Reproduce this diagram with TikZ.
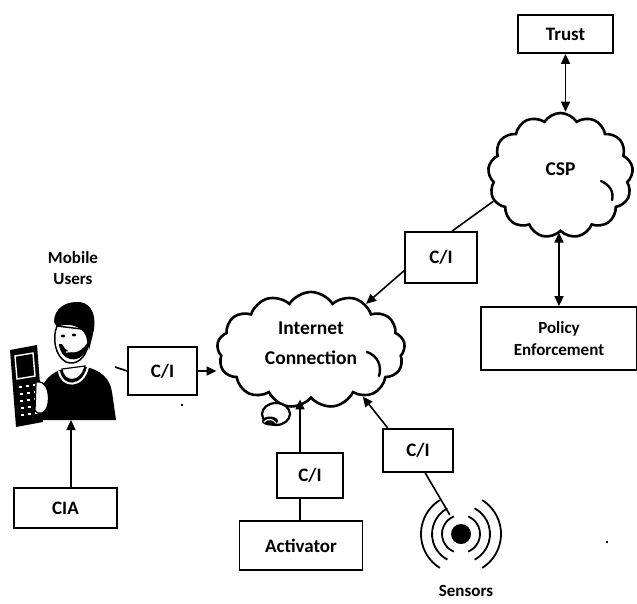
\documentclass[tikz,border=0pt]{standalone}
\usepackage{fontspec}
\setmainfont{Carlito}
\usetikzlibrary{shapes.symbols,arrows.meta,calc}
\begin{document}
\begin{tikzpicture}[x=1pt,y=-1pt,
  box/.style={draw, line width=1.8pt, inner sep=0pt, align=center,
    font=\fontsize{19}{23}\selectfont\bfseries},
  netcloud/.style={cloud, cloud puffs=13, cloud puff arc=115,
    cloud ignores aspect, draw, line width=2.6pt, inner sep=0pt,
    align=center, font=\fontsize{19.5}{30}\selectfont\bfseries},
  conn/.style={line width=1.6pt},
  tip/.tip={Triangle[length=10pt,width=9pt]},
  arr/.style={conn, -tip},
  biarr/.style={conn, tip-tip},
  lbl/.style={align=center, font=\fontsize{17}{21}\selectfont\bfseries},
  speck/.style={fill, inner sep=0pt, minimum size=2.5pt}
]
\useasboundingbox (0,0) rectangle (637,603);

% ---- clouds ----
\node[netcloud, minimum width=188pt, minimum height=116pt, text depth=14pt] (internet) at (311,350) {Internet\\Connection};
\node[netcloud, minimum width=145pt, minimum height=125pt, text depth=12pt] (csp) at (560.5,175.5) {CSP};
% inner strokes of the clouds
\draw[line width=2.4pt, line cap=round] (367,352) .. controls (378,356) and (382,366) .. (379,376);
\draw[line width=2.4pt, line cap=round] (601,181) .. controls (610,185) and (614,192) .. (612,200);

% ---- boxes ----
\node[box, minimum width=95pt, minimum height=38pt] (trust) at (565.5,34) {Trust};
\node[box, minimum width=156pt, minimum height=63pt, font=\fontsize{17}{22}\selectfont\bfseries] (policy) at (559,338.5) {Policy\\Enforcement};
\node[box, minimum width=72pt, minimum height=51pt] (ci1) at (441,257.5) {C/I};
\node[box, minimum width=69pt, minimum height=48pt] (ci2) at (162.5,371) {C/I};
\node[box, minimum width=103pt, minimum height=40pt] (cia) at (65.5,508) {CIA};
\node[box, minimum width=66pt, minimum height=45pt] (ci3) at (310,475.5) {C/I};
\node[box, minimum width=123pt, minimum height=49pt] (activator) at (301,545.5) {Activator};
\node[box, minimum width=70pt, minimum height=43pt] (ci4) at (418,450.5) {C/I};

% ---- mobile user ----
\node[lbl] (userlbl) at (73,268.5) {Mobile\\Users};
% shirt
\fill (38,420) -- (40,393) .. controls (43,380) and (52,373) .. (60,370)
  -- (86,367) .. controls (100,370) and (110,378) .. (112,392) -- (116,420) -- cycle;
% neck and collar
\filldraw[fill=white, line width=1.2pt] (62,369) .. controls (63,383) and (81,384) .. (85,366) -- cycle;
\draw[white, line width=2pt] (59,371) .. controls (61,388) and (83,389) .. (88,367);
% face
\filldraw[fill=white, line width=1.5pt] (57,326) .. controls (52,338) and (55,356) .. (66,362)
  .. controls (76,366) and (86,358) .. (88,345) -- (90,330) -- cycle;
% hair
\fill (54,322) .. controls (54,308) and (66,301) .. (80,302)
  .. controls (93,304) and (97,318) .. (93,334) -- (89,350) -- (86,336)
  .. controls (82,326) and (68,322) .. (57,327) -- cycle;
% beard
\fill (59,344) .. controls (60,360) and (78,366) .. (87,350) -- (88,342)
  .. controls (80,355) and (68,356) .. (62,344) -- cycle;
% eyes and mouth
\fill (63,336) ellipse (2.2pt and 1.4pt);
\fill (74,335) ellipse (2.2pt and 1.4pt);
\draw[white, line width=1.2pt] (66,352) -- (73,351.5);
% phone
\fill (10,350) -- (37,345) -- (43,422) -- (16,427) -- cycle;
\draw[white, line width=1.4pt] (15,356) -- (33,353) -- (35,376) -- (17,379) -- cycle;
\foreach \r in {0,1,2,3,4} {
  \foreach \c in {0,1,2} {
    \fill[white] ({19+7*\c+0.5*\r},{386+7*\r-1.2*\c}) rectangle ++(3,2);
  }
}
% hand holding the phone
\filldraw[fill=white, line width=1.3pt] (36,382) .. controls (46,380) and (50,392) .. (48,404)
  .. controls (46,414) and (38,416) .. (35,410) -- cycle;
\coordinate (userR) at (115,367);
\coordinate (userB) at (71,420);

% ---- camera below the internet cloud ----
\filldraw[fill=white, line width=2.2pt] (276,414) ellipse (14pt and 11pt);
\fill (270,421) ellipse (8pt and 4.5pt);
\draw[white, line width=1.2pt] (264,422) .. controls (268,418) and (273,419) .. (276,423);

% ---- sensor ----
\node[circle, fill, minimum size=20pt, inner sep=0pt] (dot) at (461,534) {};
\node[circle, minimum size=44pt, inner sep=0pt] (sensor) at (461,534) {};
\foreach \rad/\ang in {19/68, 29/62, 40/58} {
  \draw[line width=1.8pt] ($(dot)+({180-\ang}:\rad pt)$) arc[start angle=180-\ang, end angle=180+\ang, radius=\rad pt];
  \draw[line width=1.8pt] ($(dot)+({-\ang}:\rad pt)$) arc[start angle=-\ang, end angle=\ang, radius=\rad pt];
}
\node[lbl] (sensorlbl) at (466,591) {Sensors};

% ---- specks ----
\node[speck] (speckA) at (182,405) {};
\node[speck] (speckB) at (607,542) {};

% ---- connectors ----
\draw[biarr] (trust.south) -- (trust.south |- csp.north);
\draw[biarr] (policy.north) -- (policy.north |- csp.south);
\draw[conn] ($(ci1.north west)!0.65!(ci1.north east)$) -- (csp.201);
\draw[arr] ($(ci1.south west)!0.25!(ci1.north west)$) -- (internet.40);
\draw[conn] (userR) -- (ci2.west);
\draw[arr] (ci2.east) -- (ci2.east -| internet.west);
\draw[arr] (userB |- cia.north) -- (userB);
\coordinate (actx) at (300,0);
\draw[conn] (actx |- activator.north) -- (actx |- ci3.south);
\draw[arr] (actx |- ci3.north) -- (actx |- internet.south);
\draw[arr] ($(ci4.north west)!0.08!(ci4.north east)$) -- (internet.318);
\draw[conn] ($(ci4.south west)!0.6!(ci4.south east)$) -- (sensor);
\end{tikzpicture}
\end{document}
